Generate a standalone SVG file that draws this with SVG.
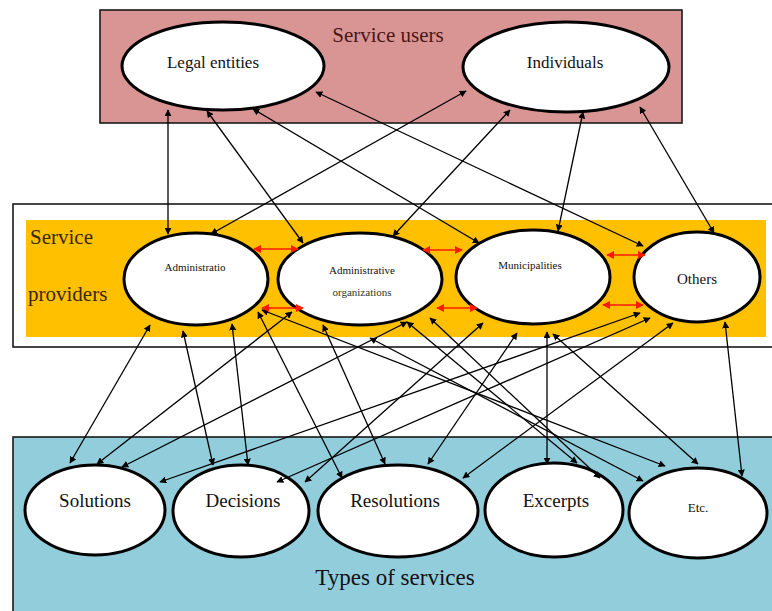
<svg xmlns="http://www.w3.org/2000/svg" width="772" height="611" viewBox="0 0 772 611">
<style>
.box{stroke:#1a1a1a;stroke-width:1.6}
.node{fill:#fff;stroke:#000;stroke-width:3}
.t{font-family:"Liberation Serif","DejaVu Serif",serif;fill:#111;text-anchor:middle}
.c line{stroke:#000;stroke-width:1.3;marker-start:url(#ah);marker-end:url(#ah)}
.r line{stroke:#ff1a00;stroke-width:1.4;marker-start:url(#rh);marker-end:url(#rh)}
</style>
<defs>
<marker id="ah" viewBox="0 0 10 10" refX="9" refY="5" markerWidth="7" markerHeight="7" markerUnits="userSpaceOnUse" orient="auto-start-reverse"><path d="M0,0 L10,5 L0,10 z" fill="#000"/></marker>
<marker id="rh" viewBox="0 0 10 10" refX="9" refY="5" markerWidth="8" markerHeight="8" markerUnits="userSpaceOnUse" orient="auto-start-reverse"><path d="M0,0 L10,5 L0,10 z" fill="#ff1a00"/></marker>
</defs>
<rect width="772" height="611" fill="#fff"/>

<g id="service-users">
<rect class="box" x="100" y="10" width="582" height="113" fill="#D99594"/>
<text class="t" x="388" y="42" font-size="21" style="fill:#4a1616">Service users</text>
</g>
<g id="service-providers">
<rect class="box" x="13" y="204" width="770" height="143" fill="#fff"/>
<rect x="26" y="220" width="740" height="117" fill="#FFC000"/>
<text class="t" x="30" y="244" font-size="21" style="fill:#3a2600;text-anchor:start">Service</text>
<text class="t" x="28" y="301" font-size="21" style="fill:#3a2600;text-anchor:start">providers</text>
</g>
<g id="types-of-services">
<rect class="box" x="13" y="437" width="770" height="180" fill="#92CDDC"/>
<text class="t" x="395" y="585" font-size="23">Types of services</text>
</g>

<g id="legal-entities"><ellipse class="node" cx="223" cy="66" rx="101" ry="44"/><text class="t" x="213" y="68" font-size="17">Legal entities</text></g>
<g id="individuals"><ellipse class="node" cx="566" cy="67" rx="103" ry="45"/><text class="t" x="565" y="68" font-size="17">Individuals</text></g>

<g id="administratio"><ellipse class="node" cx="196" cy="279" rx="72" ry="46"/><text class="t" x="195" y="271" font-size="11">Administratio</text></g>
<g id="administrative-organizations"><ellipse class="node" cx="360" cy="279" rx="82" ry="46"/><text class="t" x="362" y="274" font-size="11">Administrative</text><text class="t" x="362" y="296" font-size="11" style="fill:#1d3b1d">organizations</text></g>
<g id="municipalities"><ellipse class="node" cx="533" cy="277" rx="77" ry="47"/><text class="t" x="530" y="269" font-size="11">Municipalities</text></g>
<g id="others"><ellipse class="node" cx="697" cy="277" rx="63" ry="45"/><text class="t" x="697" y="284" font-size="15">Others</text></g>

<g id="solutions"><ellipse class="node" cx="95" cy="510" rx="70" ry="45"/><text class="t" x="95" y="507" font-size="19">Solutions</text></g>
<g id="decisions"><ellipse class="node" cx="241" cy="511" rx="68" ry="46"/><text class="t" x="243" y="507" font-size="19">Decisions</text></g>
<g id="resolutions"><ellipse class="node" cx="398" cy="511" rx="80" ry="46"/><text class="t" x="395" y="507" font-size="19">Resolutions</text></g>
<g id="excerpts"><ellipse class="node" cx="554" cy="510" rx="69" ry="47"/><text class="t" x="556" y="507" font-size="19">Excerpts</text></g>
<g id="etc"><ellipse class="node" cx="698" cy="513" rx="69" ry="45"/><text class="t" x="698" y="512" font-size="13">Etc.</text></g>

<g id="connectors">
<g class="c">
<line x1="168" y1="110" x2="168" y2="234"/>
<line x1="207" y1="111" x2="303" y2="243"/>
<line x1="253" y1="109" x2="479" y2="243"/>
<line x1="316" y1="92" x2="643" y2="246"/>
<line x1="466" y1="91" x2="211" y2="234"/>
<line x1="510" y1="110" x2="393" y2="236"/>
<line x1="583" y1="112" x2="558" y2="231"/>
<line x1="640" y1="107" x2="714" y2="233"/>

<line x1="150" y1="325" x2="70" y2="463"/>
<line x1="183" y1="331" x2="213" y2="465"/>
<line x1="232" y1="324" x2="248" y2="465"/>
<line x1="258" y1="312" x2="342" y2="478"/>
<line x1="262" y1="310" x2="665" y2="466"/>
<line x1="292" y1="312" x2="97" y2="464"/>
<line x1="407" y1="322" x2="122" y2="467"/>
<line x1="323" y1="325" x2="385" y2="464"/>
<line x1="370" y1="338" x2="643" y2="481"/>
<line x1="407" y1="322" x2="577" y2="463"/>
<line x1="430" y1="318" x2="600" y2="478"/>
<line x1="517" y1="333" x2="428" y2="464"/>
<line x1="547" y1="332" x2="547" y2="464"/>
<line x1="553" y1="334" x2="698" y2="464"/>
<line x1="483" y1="323" x2="305" y2="482"/>
<line x1="640" y1="313" x2="160" y2="482"/>
<line x1="650" y1="318" x2="277" y2="482"/>
<line x1="673" y1="323" x2="463" y2="478"/>
<line x1="725" y1="322" x2="742" y2="476"/>
</g>
<g class="r">
<line x1="254" y1="249" x2="298" y2="249"/>
<line x1="262" y1="308" x2="303" y2="308"/>
<line x1="423" y1="250" x2="462" y2="250"/>
<line x1="437" y1="308" x2="477" y2="308"/>
<line x1="607" y1="255" x2="645" y2="255"/>
<line x1="603" y1="305" x2="643" y2="305"/>
</g>
</g>
</svg>
